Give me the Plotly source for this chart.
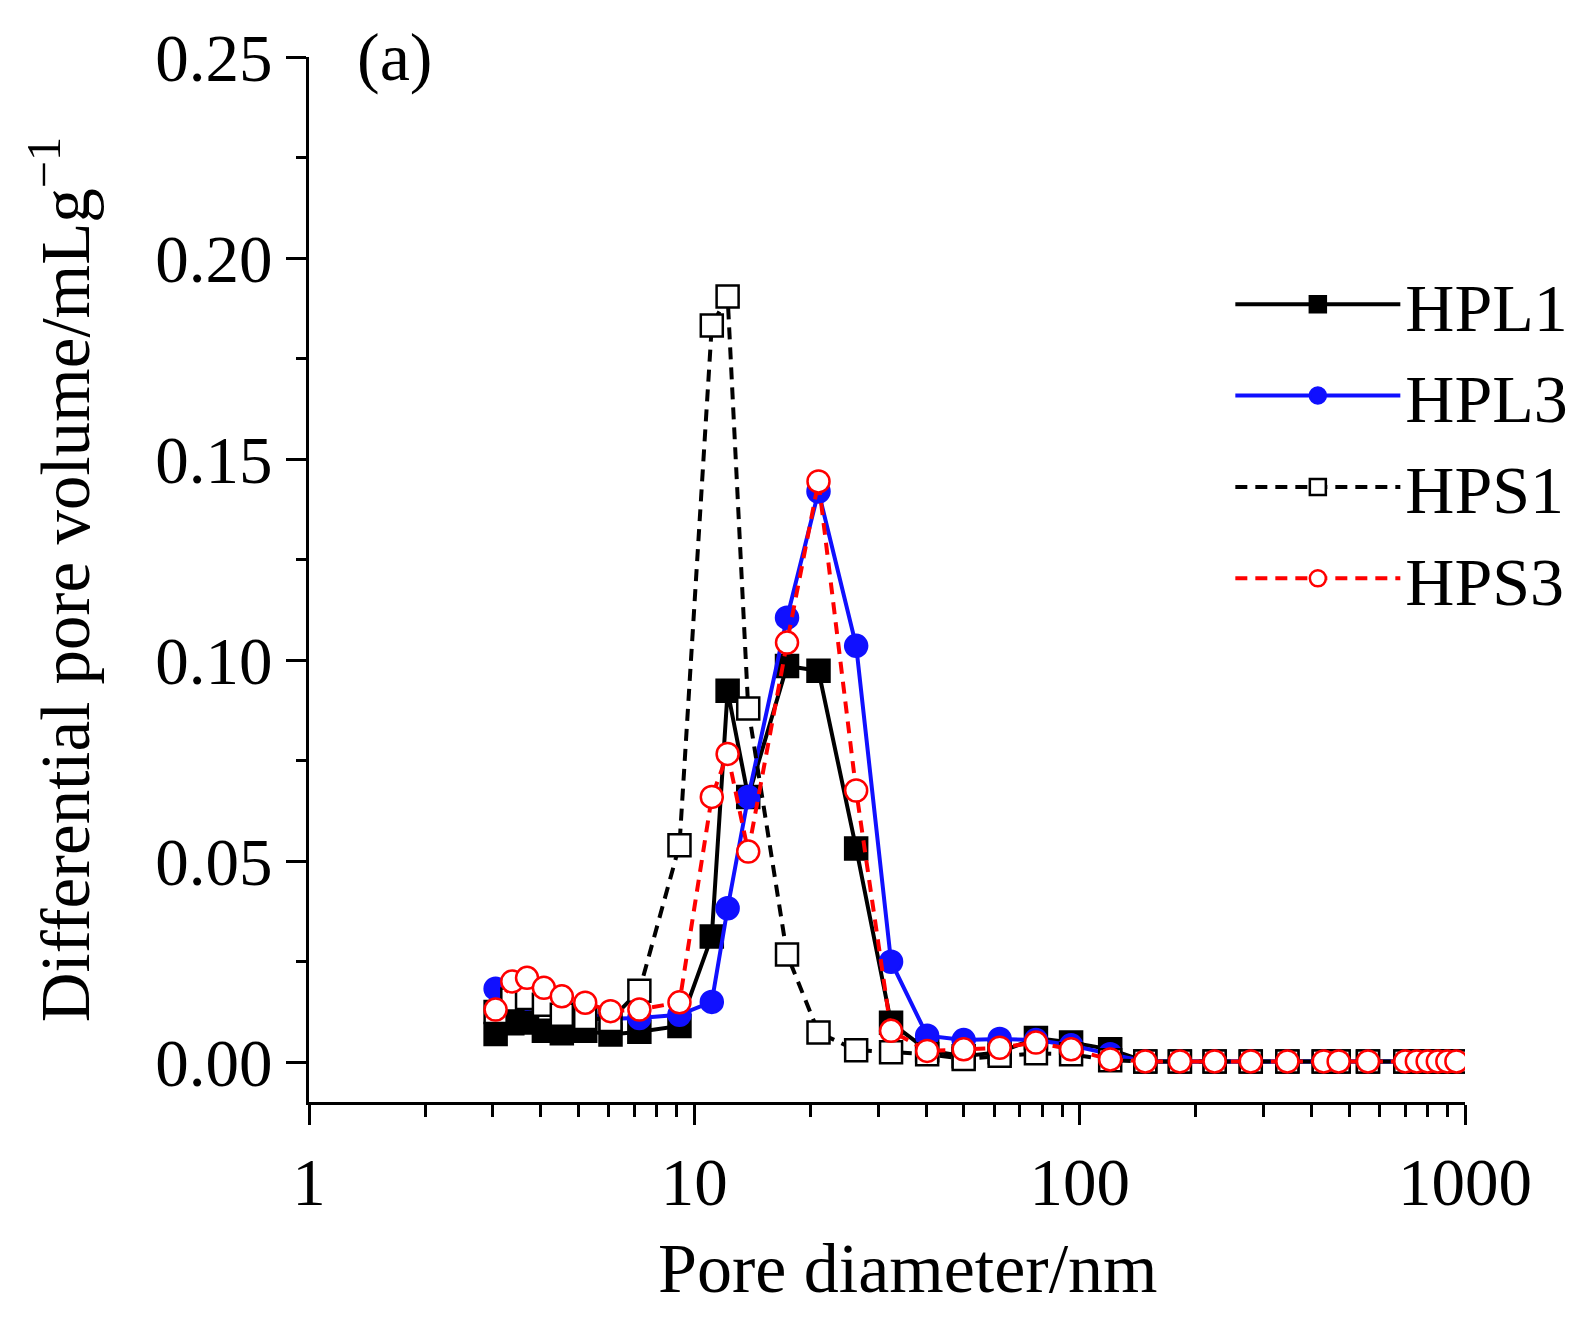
import plotly.graph_objects as go

# pore diameter (nm), shared by all four samples
diameter = [3.05, 3.37, 3.68, 4.07, 4.53, 5.21, 6.06, 7.2, 9.15, 11.1, 12.2, 13.8,
            17.4, 21.0, 26.3, 32.4, 40.2, 50, 62, 77, 95, 120, 148, 182, 224, 278,
            346, 430, 470, 560, 700, 750, 800, 850, 900, 950]

tail = [0.0002] * 14

hpl1 = [0.0070, 0.0097, 0.0099, 0.0078, 0.0072, 0.0078, 0.0069, 0.0076, 0.0090,
        0.0313, 0.0924, 0.0660, 0.0986, 0.0974, 0.0532, 0.0098, 0.0030, 0.0015,
        0.0025, 0.0060, 0.0049, 0.0032] + tail
hpl3 = [0.0183, 0.0165, 0.0158, 0.0145, 0.0133, 0.0122, 0.0108, 0.0110, 0.0118,
        0.0150, 0.0383, 0.0660, 0.1106, 0.1420, 0.1036, 0.0250, 0.0066, 0.0055,
        0.0058, 0.0055, 0.0042, 0.0020] + tail
hps1 = [0.0125, 0.0156, 0.0160, 0.0143, 0.0118, 0.0110, 0.0105, 0.0178, 0.0540,
        0.1833, 0.1905, 0.0880, 0.0268, 0.0074, 0.0030, 0.0025, 0.0020, 0.0008,
        0.0016, 0.0022, 0.0020, 0.0005] + tail
hps3 = [0.0131, 0.0201, 0.0210, 0.0185, 0.0164, 0.0148, 0.0127, 0.0131, 0.0149,
        0.0660, 0.0767, 0.0524, 0.1044, 0.1445, 0.0676, 0.0078, 0.0028, 0.0032,
        0.0036, 0.0049, 0.0032, 0.0007] + tail

x_ticks = [1, 10, 100, 1000]
y_ticks = [0.00, 0.05, 0.10, 0.15, 0.20, 0.25]

FONT = "Liberation Serif, Times New Roman, serif"

fig = go.Figure()

# (name, values, colour, dash, marker symbol, marker fill)
series = [
    ("HPL1", hpl1, "black", "solid", "square", "black"),
    ("HPL3", hpl3, "#1010ff", "solid", "circle", "#1010ff"),
    ("HPS1", hps1, "black", "12px,8px", "square", "white"),
    ("HPS3", hps3, "#ff0000", "12px,8px", "circle", "white"),
]

for name, vals, color, dash, symbol, fill in series:
    fig.add_trace(go.Scatter(
        x=diameter, y=vals, name=name, mode="lines+markers",
        line=dict(color=color, width=4, dash=dash),
        marker=dict(symbol=symbol, size=22, color=fill,
                    line=dict(color=color, width=2.5)),
    ))

minor_x = [m * 10 ** k for k in range(3) for m in range(2, 10)]

fig.update_layout(
    width=1595, height=1319,
    margin=dict(l=301, r=138, t=49, b=225),
    paper_bgcolor="white", plot_bgcolor="white",
    font=dict(family=FONT, size=67, color="black"),
    showlegend=True,
    legend=dict(x=0.797, y=0.812, xanchor="left", yanchor="top",
                font=dict(size=68), bgcolor="rgba(0,0,0,0)",
                itemwidth=165, tracegroupgap=0),
    annotations=[
        dict(text="(a)", x=0.04, y=1.0, xref="paper", yref="paper",
             xanchor="left", yanchor="middle", showarrow=False,
             font=dict(size=68)),
        dict(text="Pore diameter/nm", x=0.518, y=-0.159, xref="paper",
             yref="paper", xanchor="center", yanchor="middle",
             showarrow=False, font=dict(size=70)),
    ],
)

fig.update_xaxes(
    type="log", range=[0, 3],
    tickvals=x_ticks, ticktext=[str(v) for v in x_ticks],
    ticks="outside", ticklen=20, tickwidth=3, tickcolor="black",
    showline=True, linewidth=3, linecolor="black", mirror=False,
    showgrid=False, zeroline=False,
    minor=dict(tickvals=minor_x, ticks="outside", ticklen=12, tickwidth=3,
               tickcolor="black", showgrid=False),
)

fig.update_yaxes(
    range=[-0.0099, 0.2501],
    tickvals=y_ticks, tickformat=".2f",
    ticks="outside", ticklen=20, tickwidth=3, tickcolor="black",
    showline=True, linewidth=3, linecolor="black", mirror=False,
    showgrid=False, zeroline=False,
    minor=dict(dtick=0.025, tick0=0, ticks="outside", ticklen=10, tickwidth=3,
               tickcolor="black", showgrid=False),
    title=dict(text="Differential pore volume/mLg<sup>−1</sup>",
               font=dict(size=69), standoff=44),
)

fig.write_html("out.html")
